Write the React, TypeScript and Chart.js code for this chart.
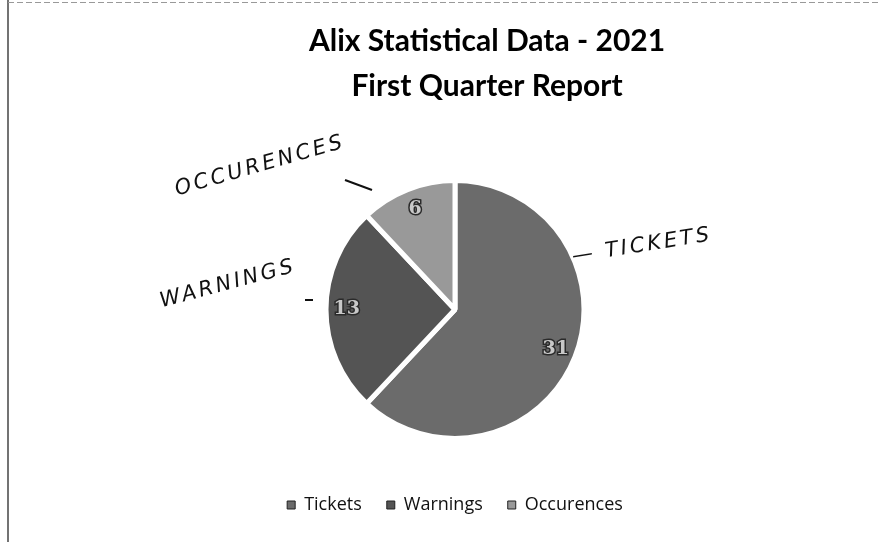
import React, { useEffect, useRef } from "react";
import { Chart, registerables } from "chart.js";

Chart.register(...registerables);

const categories = ["Tickets", "Warnings", "Occurences"];
const values = [31, 13, 6];
const titleLines = ["Alix Statistical Data - 2021", "First Quarter Report"];
const sliceColors = ["#6b6b6b", "#545454", "#999999"];

const annotations = [
  { text: "OCCURENCES", x: 260, y: 166, rot: -16, dash: { x1: 345, y1: 180, x2: 372, y2: 190 } },
  { text: "— TICKETS", x: 642, y: 246, rot: -9, dash: null },
  { text: "WARNINGS", x: 228, y: 284, rot: -15, dash: { x1: 305, y1: 300, x2: 313, y2: 300 } },
];

export default function App() {
  const ref = useRef<HTMLCanvasElement | null>(null);
  useEffect(() => {
    if (!ref.current) return;
    const labelPlugin = {
      id: "sliceLabels",
      afterDatasetsDraw(chart: any) {
        const ctx = chart.ctx;
        const meta = chart.getDatasetMeta(0);
        ctx.save();
        ctx.font = "bold 19px 'DejaVu Serif'";
        ctx.textAlign = "center";
        ctx.textBaseline = "middle";
        meta.data.forEach((arc: any, i: number) => {
          const p = arc.getProps(["x", "y", "startAngle", "endAngle", "outerRadius"], true);
          const mid = (p.startAngle + p.endAngle) / 2;
          const r = p.outerRadius * 0.84;
          const x = p.x + Math.cos(mid) * r;
          const y = p.y + Math.sin(mid) * r;
          ctx.lineWidth = 3;
          ctx.strokeStyle = "#2a2a2a";
          ctx.strokeText(String(values[i]), x, y);
          ctx.fillStyle = "#c8c8c8";
          ctx.fillText(String(values[i]), x, y);
        });
        ctx.restore();
      },
      afterDraw(chart: any) {
        const ctx = chart.ctx;
        ctx.save();
        // title
        ctx.fillStyle = "#000";
        ctx.font = "bold 30px Lato";
        ctx.textAlign = "center";
        ctx.textBaseline = "middle";
        ctx.fillText(titleLines[0], 487, 41);
        ctx.fillText(titleLines[1], 487, 86);
        // frame
        ctx.strokeStyle = "#444";
        ctx.lineWidth = 1.5;
        ctx.beginPath();
        ctx.moveTo(8, 0);
        ctx.lineTo(8, 542);
        ctx.stroke();
        ctx.strokeStyle = "#999";
        ctx.lineWidth = 1;
        ctx.setLineDash([6, 3]);
        ctx.beginPath();
        ctx.moveTo(8, 2.5);
        ctx.lineTo(880, 2.5);
        ctx.stroke();
        ctx.setLineDash([]);
        // handwritten notes
        ctx.fillStyle = "#111";
        ctx.strokeStyle = "#111";
        ctx.lineWidth = 2;
        ctx.font = "italic 21px 'DejaVu Sans'";
        (ctx as any).letterSpacing = "3px";
        annotations.forEach((a) => {
          ctx.save();
          ctx.translate(a.x, a.y);
          ctx.rotate((a.rot * Math.PI) / 180);
          ctx.fillText(a.text, 0, 0);
          ctx.restore();
          if (a.dash) {
            ctx.beginPath();
            ctx.moveTo(a.dash.x1, a.dash.y1);
            ctx.lineTo(a.dash.x2, a.dash.y2);
            ctx.stroke();
          }
        });
        ctx.restore();
      },
    };
    const chart = new Chart(ref.current, {
      type: "pie",
      data: {
        labels: categories,
        datasets: [
          {
            data: values,
            backgroundColor: sliceColors,
            borderColor: "#ffffff",
            borderWidth: 5,
            radius: 129,
          },
        ],
      },
      options: {
        animation: false,
        responsive: false,
        layout: { padding: { left: 30, right: 0, top: 148, bottom: 18 } },
        plugins: {
          title: { display: false },
          legend: {
            position: "bottom",
            labels: {
              color: "#111",
              font: { family: "'Open Sans'", size: 18 },
              boxWidth: 8,
              boxHeight: 8,
              padding: 25,
              generateLabels(chart: any) {
                return categories.map((c, i) => ({
                  text: c,
                  fillStyle: sliceColors[i],
                  strokeStyle: "#222",
                  lineWidth: 1,
                  fontColor: "#111",
                  hidden: false,
                  index: i,
                }));
              },
            },
          },
          tooltip: { enabled: false },
        },
      },
      plugins: [labelPlugin],
    });
    return () => chart.destroy();
  }, []);
  return (
    <div style={{ position: "fixed", left: 0, top: 0, width: 880, height: 542, background: "#fff" }}>
      <canvas ref={ref} width={880} height={542} />
    </div>
  );
}
